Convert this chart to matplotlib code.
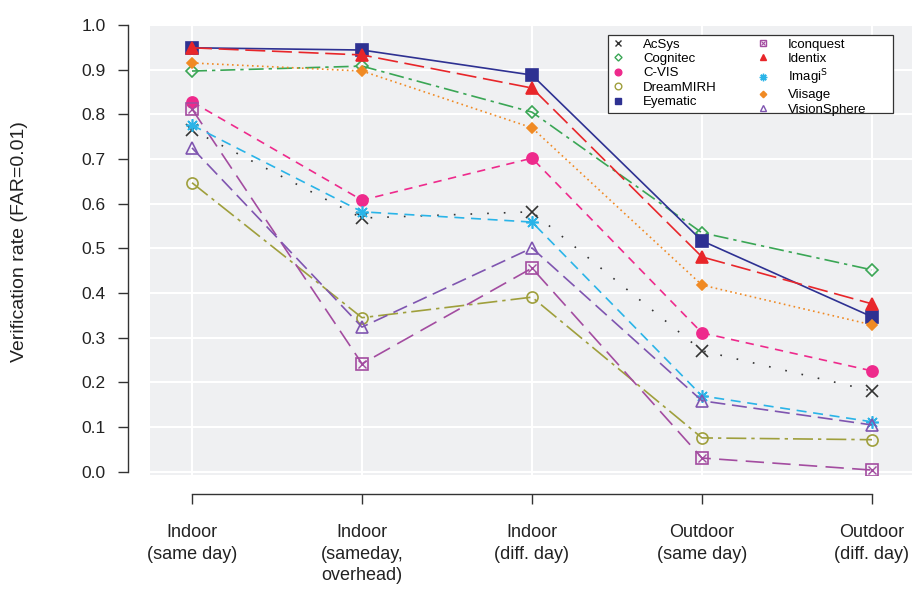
import matplotlib
matplotlib.use("Agg")
import matplotlib.pyplot as plt
from matplotlib.lines import Line2D
from matplotlib.patches import Rectangle
from matplotlib.legend_handler import HandlerTuple

plt.rcParams['font.family'] = ['Liberation Sans', 'DejaVu Sans']

categories = ["Indoor\n(same day)", "Indoor\n(sameday,\noverhead)", "Indoor\n(diff. day)",
              "Outdoor\n(same day)", "Outdoor\n(diff. day)"]
yticks = [0.0, 0.1, 0.2, 0.3, 0.4, 0.5, 0.6, 0.7, 0.8, 0.9, 1.0]

acsys = [0.765, 0.568, 0.582, 0.271, 0.181]
cognitec = [0.897, 0.908, 0.805, 0.535, 0.452]
cvis = [0.828, 0.608, 0.702, 0.311, 0.226]
dreammirh = [0.647, 0.345, 0.391, 0.076, 0.072]
eyematic = [0.949, 0.944, 0.888, 0.517, 0.347]
iconquest = [0.812, 0.242, 0.456, 0.031, 0.004]
identix = [0.949, 0.933, 0.859, 0.481, 0.376]
imagis = [0.776, 0.582, 0.559, 0.170, 0.112]
viisage = [0.915, 0.897, 0.770, 0.418, 0.329]
visionsphere = [0.725, 0.324, 0.501, 0.159, 0.105]

series = [
    ("AcSys", acsys, "#333333", (0, (1, 9)), "x", True, 8),
    ("Cognitec", cognitec, "#3aa655", (0, (9, 3, 2, 3)), "D", False, 6),
    ("C-VIS", cvis, "#ee2a8c", (0, (5, 4)), "o", True, 8),
    ("DreamMIRH", dreammirh, "#9f9f3c", (0, (12, 3, 2, 3)), "o", False, 8),
    ("Eyematic", eyematic, "#2e3192", "-", "s", True, 8),
    ("Iconquest", iconquest, "#a34ca0", (0, (11, 5)), "s", False, 8),
    ("Identix", identix, "#e8262a", (0, (12, 4)), "^", True, 8),
    ("Imagi$^{\\mathrm{S}}$", imagis, "#2ab4e8", (0, (6, 4)), (8, 2, 0), True, 9),
    ("Viisage", viisage, "#f08a24", (0, (1, 2)), "D", True, 5.5),
    ("VisionSphere", visionsphere, "#7f55b0", (0, (9, 4)), "^", False, 8),
]

fig = plt.figure(figsize=(9.14, 5.90), dpi=100)
W, H = 914, 590
PX = 72 / 100  # points per pixel
ax = fig.add_axes([150 / W, 1 - 475 / H, (912 - 150) / W, (475 - 25) / H])
ax.set_facecolor("#eff0f2")

# spines first (repositioning resets tick objects)
for s in ["top", "right"]:
    ax.spines[s].set_visible(False)
ax.spines["left"].set_position(("outward", 22 * PX))
ax.spines["left"].set_bounds(0, 1)
ax.spines["bottom"].set_position(("outward", 19 * PX))
ax.spines["bottom"].set_bounds(0, 4)
for s in ["left", "bottom"]:
    ax.spines[s].set_color("#333333")
    ax.spines[s].set_linewidth(1.0)

x = list(range(len(categories)))
handles = []
for name, vals, col, ls, mk, filled, ms in series:
    kw = dict(color=col, linestyle=ls, linewidth=1.2, marker=mk, markersize=ms,
              markeredgewidth=1.2, zorder=3)
    if filled:
        kw.update(markerfacecolor=col, markeredgecolor=col)
    else:
        kw.update(markerfacecolor="none", markeredgecolor=col)
    ax.plot(x, vals, **kw)
    h = Line2D([], [], linestyle="none", marker=mk, markersize=ms * 0.6,
               markeredgewidth=1.0, markeredgecolor=col,
               markerfacecolor=(col if filled else "none"))
    if name == "Iconquest":
        ax.plot(x, vals, linestyle="none", marker="x", markersize=5.5,
                markeredgewidth=1.0, color=col, zorder=3)
        h2 = Line2D([], [], linestyle="none", marker="x", markersize=3.5,
                    markeredgewidth=0.8, color=col)
        h = (h, h2)
    handles.append((h, name))

ax.set_xlim(-42 / 170, 4 + 40 / 170)
ax.set_ylim(-0.007, 1.0)
ax.set_xticks(x)
ax.set_xticklabels(categories, linespacing=1.35)
ax.set_yticks(yticks)
ax.set_yticklabels([f"{v:.1f}" for v in yticks])
ax.grid(True, color="white", linewidth=1.5, zorder=0)
ax.set_axisbelow(True)

ax.tick_params(axis="both", direction="out", length=10 * PX, width=1.0, color="#333333",
               labelcolor="#222222")
ax.tick_params(axis="y", pad=12 * PX, labelsize=12.5)
ax.tick_params(axis="x", pad=20 * PX, labelsize=13)

ax.set_ylabel("Verification rate (FAR=0.01)", fontsize=14, color="#222222")
ax.yaxis.set_label_coords(28 / W, 1 - 242 / H, transform=fig.transFigure)

# legend box
box = Rectangle((608 / W, 1 - 113 / H), (893 - 608) / W, (113 - 35) / H,
                transform=fig.transFigure, facecolor="white", edgecolor="#333333",
                linewidth=0.9, zorder=4)
ax.add_patch(box)

leg = ax.legend([h for h, _ in handles], [n for _, n in handles], ncol=2,
                loc="upper left", bbox_to_anchor=(608 / W, 1 - 35 / H),
                bbox_transform=fig.transFigure, fontsize=9.5, frameon=False,
                handlelength=1.0, handletextpad=1.4, columnspacing=3.0,
                labelspacing=0.17, borderpad=0.25, borderaxespad=0,
                handler_map={tuple: HandlerTuple(ndivide=1, pad=0)})
leg.set_zorder(5)

fig.savefig("out.png", dpi=100)
